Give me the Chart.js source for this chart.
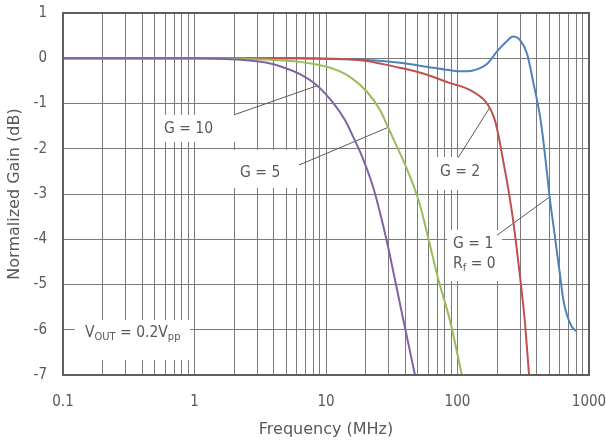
<!DOCTYPE html>
<html><head><meta charset="utf-8">
<script src="https://cdn.jsdelivr.net/npm/chart.js@4/dist/chart.umd.min.js"></script>
<style>html,body{margin:0;padding:0;background:#fff;}#wrap{width:606px;height:447px;}</style>
</head><body><div id="wrap"><canvas id="c" width="606" height="447"></canvas></div>
<script>
// ---- data (frequency in MHz, normalized gain in dB) ----
const freqG10 = [0.1, 1, 1.86, 2.64, 3.56, 4.71, 6.34, 8.54, 11.3, 13.9, 16, 19.1, 22.9, 28.9, 33.5, 38.7, 47.5];
const gainG10 = [0, 0, -0.02, -0.05, -0.10, -0.20, -0.35, -0.60, -0.98, -1.36, -1.72, -2.22, -2.86, -4.02, -4.90, -5.78, -7.0];
const freqG5 = [0.1, 1, 2, 3.56, 6.34, 8.5, 11.3, 15.2, 20.5, 25.7, 29.6, 34.7, 41.3, 46.1, 51.9, 60, 71.4, 87.7, 108];
const gainG5 = [0, 0, -0.01, -0.03, -0.08, -0.14, -0.23, -0.41, -0.74, -1.14, -1.52, -1.96, -2.45, -2.80, -3.25, -3.98, -4.88, -5.8, -7.0];
const freqG2 = [0.1, 1, 3, 6.34, 10, 15.2, 20.5, 27.1, 36.5, 49.2, 65.1, 87.7, 104, 124, 148, 162, 171, 183, 193, 203, 222, 243, 264, 289, 308, 326, 350];
const gainG2 = [0, 0, 0, 0, -0.01, -0.02, -0.06, -0.13, -0.21, -0.30, -0.41, -0.55, -0.61, -0.70, -0.84, -0.94, -1.04, -1.20, -1.38, -1.65, -2.25, -2.88, -3.55, -4.46, -5.15, -5.85, -7.0];
const freqG1 = [0.1, 0.3, 1, 3, 6.34, 10, 20.5, 36.5, 65, 90, 105, 131, 168, 200, 238, 264, 299, 338, 375, 424, 449, 480, 505, 540, 568, 600, 638, 681, 743, 796];
const gainG1 = [0, 0, 0, 0, 0, -0.01, -0.04, -0.10, -0.21, -0.27, -0.29, -0.27, -0.12, 0.15, 0.38, 0.48, 0.40, 0.10, -0.50, -1.28, -1.81, -2.55, -3.13, -3.76, -4.24, -4.76, -5.34, -5.68, -5.94, -6.03];

const seriesNames = ['G = 10', 'G = 5', 'G = 2', 'G = 1'];
const decadeTicks = [0.1, 1, 10, 100, 1000];
const decadeLabels = ['0.1', '1', '10', '100', '1000'];
const minorSteps = [1, 2, 3, 4, 5, 6, 7, 8, 9];
const yTicks = [1, 0, -1, -2, -3, -4, -5, -6, -7];

// annotation boxes [xmin, xmax, ytop, ybottom] in data units
const noteBoxes = [
  [0.547, 2.07, -1.254, -1.851],
  [1.62, 6.34, -2.028, -2.867],
  [64.0, 177, -2.182, -2.912],
  [83.2, 218, -3.796, -4.923],
  [0.123, 0.924, -5.785, -6.669]
];
// text lines: [x, y, parts]  parts: [text, subscript?]
const noteTexts = [
  [0.586, -1.563, [['G = 10', 0]]],
  [2.22, -2.536, [['G = 5', 0]]],
  [73.6, -2.514, [['G = 2', 0]]],
  [92.5, -4.105, [['G = 1', 0]]],
  [92.5, -4.547, [['R', 0], ['f', 1], [' = 0', 0]]],
  [0.147, -6.072, [['V', 0], ['OUT', 1], [' = 0.2V', 0], ['pp', 1]]]
];
// leader lines [x0, y0, x1, y1] in data units
const leaders = [
  [2.0, -1.25, 8.7, -0.6],
  [6.23, -2.36, 30.1, -1.52],
  [101, -2.20, 175, -1.10],
  [200, -3.91, 499, -3.07]
];

const FONT = '"DejaVu Sans Condensed", "DejaVu Sans", sans-serif';
const TFONT = '"DejaVu Sans", sans-serif';
const TXT = '#595959';

const pts = (fx, gy) => fx.map((f, i) => ({x: f, y: gy[i]}));

const annot = {
  id: 'annot',
  beforeDatasetsDraw(chart) {
    const {ctx, scales: {x, y}} = chart;
    ctx.save();
    ctx.fillStyle = '#ffffff';
    noteBoxes.forEach(b => {
      const x0 = x.getPixelForValue(b[0]), x1 = x.getPixelForValue(b[1]);
      const y0 = y.getPixelForValue(b[2]), y1 = y.getPixelForValue(b[3]);
      ctx.fillRect(x0, y0, x1 - x0, y1 - y0);
    });
    ctx.strokeStyle = '#595959';
    ctx.lineWidth = 1;
    leaders.forEach(l => {
      ctx.beginPath();
      ctx.moveTo(x.getPixelForValue(l[0]), y.getPixelForValue(l[1]));
      ctx.lineTo(x.getPixelForValue(l[2]), y.getPixelForValue(l[3]));
      ctx.stroke();
    });
    ctx.fillStyle = TXT;
    ctx.textBaseline = 'middle';
    ctx.textAlign = 'left';
    noteTexts.forEach(t => {
      let px = x.getPixelForValue(t[0]);
      const py = y.getPixelForValue(t[1]);
      t[2].forEach(p => {
        if (p[1]) {
          ctx.font = '11px ' + FONT;
          ctx.fillText(p[0], px, py + 4);
        } else {
          ctx.font = '15.5px ' + FONT;
          ctx.fillText(p[0], px, py);
        }
        px += ctx.measureText(p[0]).width;
      });
    });
    ctx.restore();
  },
  afterDatasetsDraw(chart) {
    const {ctx, chartArea: a} = chart;
    ctx.save();
    ctx.strokeStyle = '#5e5e5e';
    ctx.lineWidth = 2;
    ctx.strokeRect(a.left, a.top, a.right - a.left, a.bottom - a.top);
    ctx.restore();
  }
};

const colors = ['#8064a2', '#9bbb59', '#c0504d', '#4f81bd'];
const allData = [pts(freqG10, gainG10), pts(freqG5, gainG5), pts(freqG2, gainG2), pts(freqG1, gainG1)];

new Chart(document.getElementById('c'), {
  type: 'scatter',
  data: {
    datasets: allData.map((d, i) => ({
      label: seriesNames[i], data: d, showLine: true, borderColor: colors[i],
      borderWidth: 2, pointRadius: 0, cubicInterpolationMode: 'monotone', fill: false
    }))
  },
  options: {
    responsive: false, animation: false, devicePixelRatio: 1,
    layout: {padding: {left: 0, right: 17, top: 13, bottom: 0}},
    plugins: {legend: {display: false}, tooltip: {enabled: false}},
    scales: {
      x: {
        type: 'logarithmic', min: 0.1, max: 1000,
        afterBuildTicks(s) {
          const t = [];
          decadeTicks.slice(0, -1).forEach(d => minorSteps.forEach(m => t.push({value: d * m})));
          t.push({value: decadeTicks[decadeTicks.length - 1]});
          s.ticks = t;
        },
        afterFit(s) { s.height = 72; s.paddingLeft = 0; s.paddingRight = 0; },
        ticks: {
          autoSkip: false, maxRotation: 0, minRotation: 0, padding: 18, color: TXT,
          font: {family: FONT, size: 15},
          callback(v) {
            const k = decadeTicks.findIndex(d => Math.abs(d - v) < 1e-9 * d);
            return k >= 0 ? decadeLabels[k] : '';
          }
        },
        grid: {color: '#7a7a7a', lineWidth: 1, drawTicks: false},
        border: {display: false},
        title: {display: true, text: 'Frequency (MHz)', color: TXT, font: {family: TFONT, size: 16}, padding: {top: 0, bottom: 8}}
      },
      y: {
        min: -7, max: 1,
        afterBuildTicks(s) { s.ticks = yTicks.map(v => ({value: v})); },
        afterFit(s) { s.width = 63; s.paddingTop = 0; s.paddingBottom = 0; },
        ticks: {padding: 16, color: TXT, font: {family: FONT, size: 15}, callback: v => String(v)},
        grid: {color: '#7a7a7a', lineWidth: 1, drawTicks: false},
        border: {display: false},
        title: {display: true, text: 'Normalized Gain (dB)', color: TXT, font: {family: TFONT, size: 16}, padding: {top: 5, bottom: 0}}
      }
    }
  },
  plugins: [annot]
});
</script></body></html>
